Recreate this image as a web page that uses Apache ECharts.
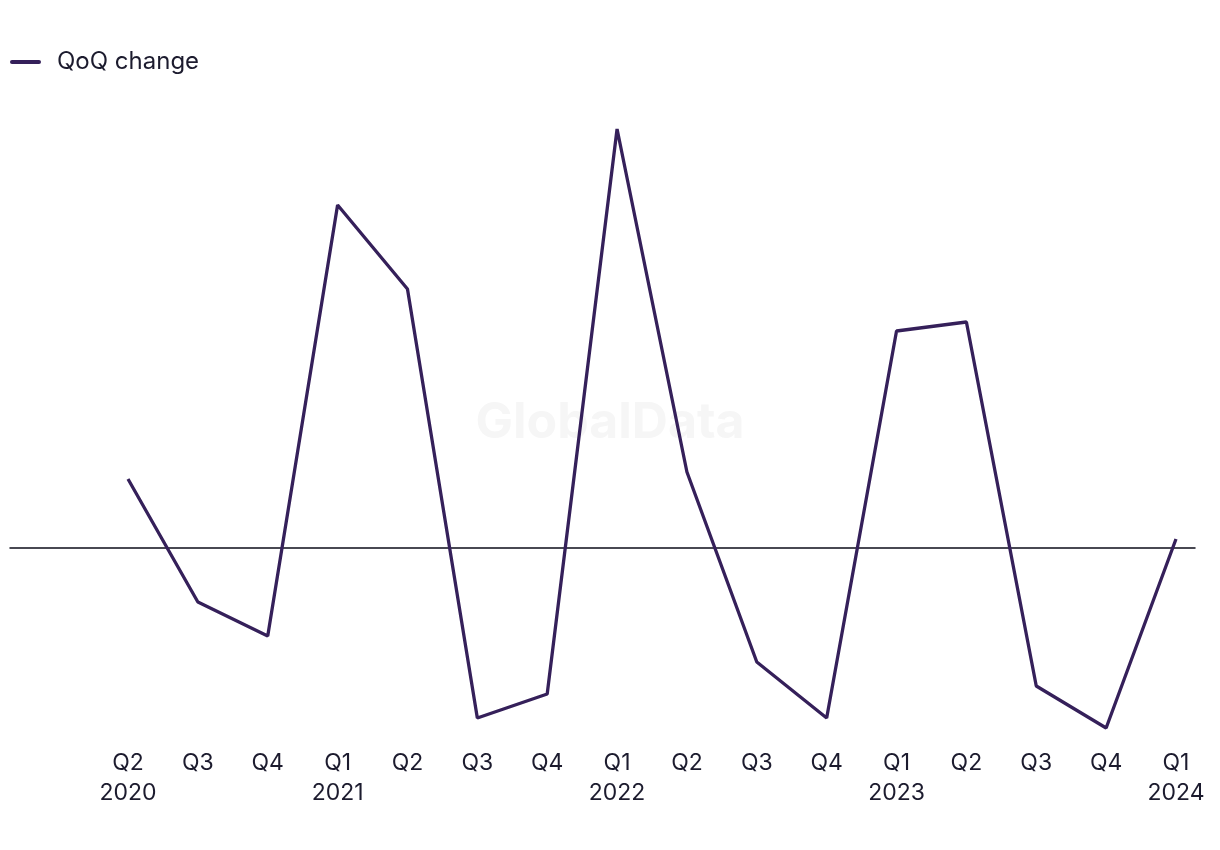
<!DOCTYPE html>
<html><head><meta charset="utf-8">
<script src="https://cdn.jsdelivr.net/npm/echarts@6/dist/echarts.min.js"></script>
<style>html,body{margin:0;padding:0;background:#fff}#c{width:1220px;height:850px}</style>
</head><body><div id="c"></div>
<script>
const categories = ['Q2\n2020','Q3','Q4','Q1\n2021','Q2','Q3','Q4','Q1\n2022','Q2','Q3','Q4','Q1\n2023','Q2','Q3','Q4','Q1\n2024'];
const qoqChange = [6.9, -5.4, -8.8, 34.3, 25.9, -17.0, -14.6, 41.9, 7.6, -11.4, -17.0, 21.7, 22.6, -13.8, -18.0, 0.9];
const seriesName = 'QoQ change';
const yMin = -20, yMax = 45;

const chart = echarts.init(document.getElementById('c'));
const textColor = '#1c1b2e';
const lineColor = '#35205a';
chart.setOption({
  animation: false,
  textStyle: {fontFamily: 'Inter'},
  legend: {
    left: 10, top: 50, padding: 0, itemWidth: 31, itemHeight: 24, itemGap: 20,
    icon: 'path://M2,10 L29,10 A2,2 0 0 1 29,14 L2,14 A2,2 0 0 1 2,10 Z',
    textStyle: {fontSize: 24, color: textColor, fontFamily: 'Inter', padding: [3,0,0,11]},
    data: [seriesName]
  },
  graphic: [{
    type: 'text', left: 'center', top: 398,
    style: {text: 'GlobalData', fontSize: 50, fontWeight: 'bold', fill: '#f6f6f6', fontFamily: 'Inter'},
    z: -1
  }],
  grid: [
    {left: 10, right: 25, top: 98, bottom: 102},
    {left: 128, right: 44, top: 98, bottom: 102}
  ],
  xAxis: [
    {gridIndex: 0, type: 'value', min: 0, max: 1, axisLine: {show: true, onZero: true, lineStyle: {color: '#0d0d1a', width: 1.5}},
     axisTick: {show: false}, axisLabel: {show: false}, splitLine: {show: false}},
    {gridIndex: 1, type: 'category', data: categories, boundaryGap: false,
     axisLine: {show: false}, axisTick: {show: false}, splitLine: {show: false},
     axisLabel: {fontSize: 23, color: textColor, lineHeight: 30, margin: 0, fontFamily: 'Inter', interval: 0}}
  ],
  yAxis: [
    {gridIndex: 0, type: 'value', min: yMin, max: yMax, show: false},
    {gridIndex: 1, type: 'value', min: yMin, max: yMax, show: false}
  ],
  series: [{
    name: seriesName, type: 'line', xAxisIndex: 1, yAxisIndex: 1,
    data: qoqChange, symbol: 'none', lineStyle: {color: lineColor, width: 3.3}, itemStyle: {color: lineColor}
  }]
});
</script></body></html>
